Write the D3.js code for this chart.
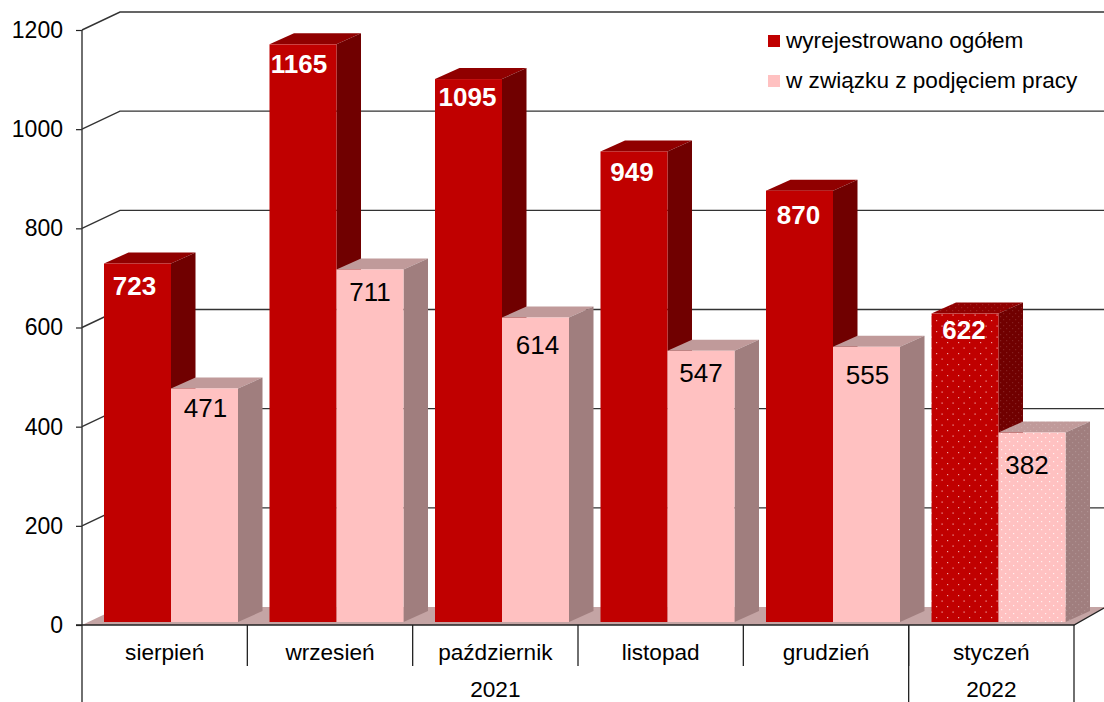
<!DOCTYPE html>
<html>
<head>
<meta charset="utf-8">
<script src="https://cdn.jsdelivr.net/npm/d3@7"></script>
<style>
  html, body { margin: 0; padding: 0; background: #fff; }
  svg { display: block; font-family: "Liberation Sans", Arial, sans-serif; }
</style>
</head>
<body>
<script>
const months = ['sierpień', 'wrzesień', 'październik', 'listopad', 'grudzień', 'styczeń'];
const years = ['2021', '2021', '2021', '2021', '2021', '2022'];
const ogolem = [723, 1165, 1095, 949, 870, 622];
const podjecie = [471, 711, 614, 547, 555, 382];
const seriesNames = ['wyrejestrowano ogółem', 'w związku z podjęciem pracy'];
const yTicks = [0, 200, 400, 600, 800, 1000, 1200];
const dottedMonth = 'styczeń';

const width = 1104;
const height = 702;
const left = 82;
const right = 1074;
const depth = { x: 38, y: -18 }; // wall offset
const barDepth = { x: 24.5, y: -11 };
const fontSize = 22.6;

// the labels were moved by hand in the original, so nudge them per bar
const labelNudge = [
  [[0, 1], [-1, -1], [2, -3], [1, 0], [2, 3], [2, -5]],
  [[0, -1], [-1, 2], [1, 6], [-1, 1], [0, 7], [-6, 11]],
];

const colors = [
  { front: '#c00000', top: '#900000', side: '#700000', text: '#fff', weight: 'bold', dot: '#ffd8d8' },
  { front: '#ffc1c1', top: '#c09a9a', side: '#a07e7e', text: '#000', weight: 'normal', dot: '#fff' },
];

const x = d3.scaleBand().domain(months).range([left, right]);
const xBar = d3.scaleBand().domain(months).range([left, right + 1]);
const xSeries = d3.scaleBand().domain(d3.range(2)).range([22, 156]);
const y = d3.scaleLinear().domain([0, 1200]).range([625, 30]);

const rows = months.map((m, i) => [ogolem[i], podjecie[i]].map((v, s) => ({ month: m, i, s, v })));

const svg = d3.select('body').append('svg')
  .attr('width', width)
  .attr('height', height);

const defs = svg.append('defs');

// dotted fill for the last month
function addDots(id, fill, dot, size, opacity) {
  const p = defs.append('pattern')
    .attr('id', id)
    .attr('patternUnits', 'userSpaceOnUse')
    .attr('width', size)
    .attr('height', size);
  p.append('rect').attr('width', size).attr('height', size).attr('fill', fill);
  [[1, 1], [size / 2 + 1, size / 2 + 1]].forEach(([cx, cy]) => {
    p.append('rect')
      .attr('x', cx).attr('y', cy)
      .attr('width', 1.2).attr('height', 1.2)
      .attr('fill', dot)
      .attr('fill-opacity', opacity);
  });
}
colors.forEach((c, s) => {
  const size = s ? 8 : 11;
  addDots(`front${s}`, c.front, c.dot, size, 0.75);
  addDots(`top${s}`, c.top, c.dot, 6, 0.15);
  addDots(`side${s}`, c.side, c.dot, 6, 0.15);
});

const pts = a => a.map(p => p.join(',')).join(' ');

// floor
svg.append('polygon')
  .attr('fill', '#c4a4a4')
  .attr('points', pts([
    [left, y(0)], [left + depth.x, y(0) + depth.y], [width, y(0) + depth.y], [width, y(0) - 17], [right, y(0)],
  ]));

// back wall gridlines
const grid = svg.append('g')
  .attr('fill', 'none')
  .attr('stroke', '#333')
  .attr('stroke-width', 1.4);

grid.selectAll('path')
  .data(yTicks.filter(d => d > 0))
  .join('path')
  .attr('d', d => `M${left},${y(d)}L${left + depth.x},${y(d) + depth.y}H${width}`);

// y axis
svg.append('g')
  .attr('transform', `translate(${left},0)`)
  .call(d3.axisLeft(y).tickValues(yTicks).tickSize(6).tickPadding(6).tickFormat(d3.format('d')))
  .call(g => g.select('.domain').remove())
  .call(g => g.selectAll('line').attr('stroke', '#222').attr('stroke-width', 1.2))
  .call(g => g.selectAll('text').attr('font-size', 23).attr('font-family', 'inherit').attr('fill', '#000').attr('dx', -7));

svg.append('path')
  .attr('stroke', '#333')
  .attr('stroke-width', 1.4)
  .attr('d', `M${left},${y(1200)}V${height}`);

// bars, painted left to right so the pink one hides the red side
const barX = d => xBar(d.month) + xSeries(d.s);
const barW = xSeries.bandwidth();
const barBase = y(0) - 3;
const barTop = d => y(d.v) - 3;
const isDotted = d => d.month === dottedMonth;

const bar = svg.append('g')
  .selectAll('g')
  .data(rows.flat())
  .join('g');

bar.append('polygon') // top
  .attr('fill', d => isDotted(d) ? `url(#top${d.s})` : colors[d.s].top)
  .attr('points', d => pts([
    [barX(d), barTop(d)],
    [barX(d) + barDepth.x, barTop(d) + barDepth.y],
    [barX(d) + barW + barDepth.x, barTop(d) + barDepth.y],
    [barX(d) + barW, barTop(d)],
  ]));

bar.append('polygon') // side
  .attr('fill', d => isDotted(d) ? `url(#side${d.s})` : colors[d.s].side)
  .attr('points', d => pts([
    [barX(d) + barW, barTop(d)],
    [barX(d) + barW + barDepth.x, barTop(d) + barDepth.y],
    [barX(d) + barW + barDepth.x, barBase + barDepth.y],
    [barX(d) + barW, barBase],
  ]));

bar.append('rect') // front
  .attr('x', barX)
  .attr('y', barTop)
  .attr('width', barW)
  .attr('height', d => barBase - barTop(d))
  .attr('fill', d => isDotted(d) ? `url(#front${d.s})` : colors[d.s].front);

bar.append('text')
  .attr('x', d => barX(d) + barW / 2 + (d.s ? 1 : -3) + labelNudge[d.s][d.i][0])
  .attr('y', d => barTop(d) + 30 + labelNudge[d.s][d.i][1])
  .attr('text-anchor', 'middle')
  .attr('font-size', 26)
  .attr('font-weight', d => colors[d.s].weight)
  .attr('fill', d => colors[d.s].text)
  .text(d => d.v);

// category axis
const axisY = y(0);
const axisG = svg.append('g').attr('stroke', '#222').attr('stroke-width', 1.3);

axisG.append('path').attr('d', `M${left - 6},${axisY}H${right}L${width},${axisY - 17}`).attr('fill', 'none');

axisG.selectAll('line.month')
  .data(months.slice(1))
  .join('line')
  .attr('class', 'month')
  .attr('x1', d => x(d)).attr('x2', d => x(d))
  .attr('y1', axisY).attr('y2', 666);

const yearGroups = d3.groups(months.map((m, i) => ({ m, year: years[i] })), d => d.year)
  .map(([year, list]) => ({
    year,
    x0: x(list[0].m),
    x1: x(list[list.length - 1].m) + x.bandwidth(),
  }));

axisG.selectAll('line.year')
  .data(yearGroups)
  .join('line')
  .attr('class', 'year')
  .attr('x1', d => d.x1).attr('x2', d => d.x1)
  .attr('y1', axisY).attr('y2', height);

svg.append('g')
  .selectAll('text')
  .data(months)
  .join('text')
  .attr('x', d => x(d) + x.bandwidth() / 2)
  .attr('y', 660)
  .attr('text-anchor', 'middle')
  .attr('font-size', fontSize)
  .text(d => d);

svg.append('g')
  .selectAll('text')
  .data(yearGroups)
  .join('text')
  .attr('x', d => (d.x0 + d.x1) / 2)
  .attr('y', 697)
  .attr('text-anchor', 'middle')
  .attr('font-size', fontSize)
  .text(d => d.year);

// legend
const legend = svg.append('g')
  .selectAll('g')
  .data(seriesNames)
  .join('g')
  .attr('transform', (d, i) => `translate(768,${35 + i * 40})`);

legend.append('rect')
  .attr('width', 12)
  .attr('height', 12)
  .attr('fill', (d, i) => colors[i].front);

legend.append('text')
  .attr('x', 18)
  .attr('y', 13)
  .attr('font-size', fontSize)
  .text(d => d);
</script>
</body>
</html>
